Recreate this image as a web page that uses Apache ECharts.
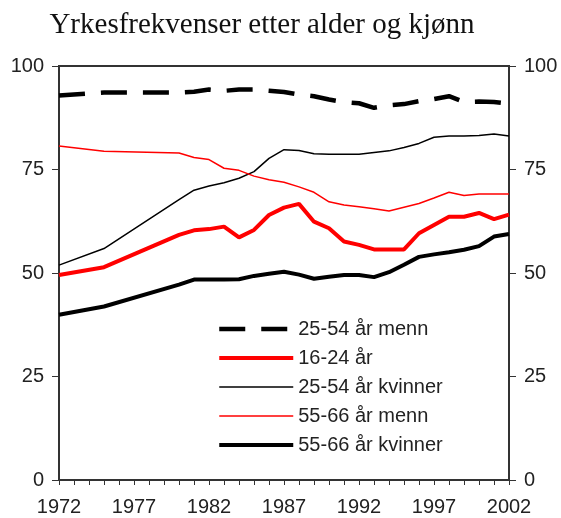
<!DOCTYPE html>
<html>
<head>
<meta charset="utf-8">
<script src="https://cdn.jsdelivr.net/npm/echarts@6/dist/echarts.min.js"></script>
<style>
  html, body { margin: 0; padding: 0; background: #fff; }
  #chart { width: 561px; height: 518px; }
</style>
</head>
<body>
<div id="chart"></div>
<script>
var years = [];
for (var y = 1972; y <= 2002; y++) years.push(String(y));

// 1972, 1975, then yearly from 1980 (null = no observation)
var menn2554 = [92.9, null, null, 93.6, null, null, null, null, 93.6, 93.8, 94.3, 94.0, 94.3, 94.3, 94.0, 93.7, 93.1, 92.7, 91.9, 91.3, 91.0, 89.9, 90.5, 90.8, 91.5, 92.0, 92.7, 91.3, 91.4, 91.3, 90.9];
var unge1624 = [49.5, null, null, 51.4, null, null, null, null, 59.2, 60.3, 60.6, 61.2, 58.6, 60.4, 64.0, 65.8, 66.7, 62.4, 60.8, 57.6, 56.8, 55.7, 55.7, 55.7, 59.6, 61.6, 63.6, 63.6, 64.5, 63.0, 64.1];
var kvinner2554 = [51.9, null, null, 55.9, null, null, null, null, 67.7, 70.0, 71.0, 71.8, 72.9, 74.5, 77.7, 79.8, 79.6, 78.8, 78.7, 78.7, 78.7, 79.1, 79.5, 80.3, 81.3, 82.8, 83.1, 83.1, 83.2, 83.6, 83.1];
var menn5566 = [80.7, null, null, 79.4, null, null, null, null, 79.0, 77.9, 77.4, 75.3, 74.8, 73.4, 72.5, 71.9, 70.8, 69.5, 67.2, 66.4, 66.0, 65.5, 65.0, 65.9, 66.8, 68.1, 69.5, 68.7, 69.1, 69.1, 69.1];
var kvinner5566 = [39.9, null, null, 41.9, null, null, null, null, 47.2, 48.4, 48.4, 48.4, 48.5, 49.3, 49.8, 50.3, 49.6, 48.6, 49.1, 49.5, 49.5, 49.0, 50.2, 52.0, 53.9, 54.5, 55.0, 55.6, 56.5, 58.8, 59.4];

var chart = echarts.init(document.getElementById('chart'));

var font = 'Liberation Sans, Arial, sans-serif';
var axisColor = '#333';

function yAx(pos) {
    return {
        type: 'value',
        position: pos,
        min: 0,
        max: 100,
        interval: 25,
        axisLine: { show: true, lineStyle: { color: axisColor, width: 2 } },
        axisTick: { show: true, length: 7, lineStyle: { color: axisColor, width: 1 } },
        axisLabel: { margin: 15, color: '#222', fontSize: 20, fontFamily: font },
        splitLine: { show: false }
    };
}

function line(name, data, color, width, type) {
    return {
        name: name,
        type: 'line',
        data: data,
        connectNulls: true,
        symbol: 'none',
        showSymbol: false,
        lineStyle: { color: color, width: width, type: type || 'solid', cap: 'butt' },
        itemStyle: { color: color }
    };
}

// legend entry: line only, no symbol
function leg(name, color, width, type) {
    return {
        name: name,
        itemStyle: { opacity: 0 },
        lineStyle: { color: color, width: width, type: type || 'solid', cap: 'butt' }
    };
}

var option = {
    animation: false,
    backgroundColor: '#fff',
    title: {
        text: 'Yrkesfrekvenser etter alder og kjønn',
        left: 257,
        top: 6,
        textAlign: 'center',
        textStyle: { fontFamily: 'Liberation Serif, Times New Roman, serif', fontSize: 29, fontWeight: 'normal', color: '#111' }
    },
    grid: {
        left: 59, right: 52, top: 66, bottom: 38,
        show: true, borderColor: axisColor, borderWidth: 2,
        containLabel: false
    },
    legend: {
        orient: 'vertical',
        left: 212,
        top: 314,
        itemWidth: 74,
        itemHeight: 14,
        itemGap: 9,
        textStyle: { fontSize: 20, fontFamily: font, color: '#222' },
        data: [
            leg('25-54 år menn', '#000', 4.5, [26, 16]),
            leg('16-24 år', '#ff0000', 4),
            leg('25-54 år kvinner', '#000', 1.5),
            leg('55-66 år menn', '#ff0000', 1.5),
            leg('55-66 år kvinner', '#000', 4)
        ]
    },
    xAxis: {
        type: 'category',
        data: years,
        boundaryGap: false,
        axisLine: { show: true, lineStyle: { color: axisColor, width: 2 } },
        axisTick: { show: true, interval: 0, length: 5, lineStyle: { color: axisColor, width: 1 } },
        axisLabel: { interval: 4, margin: 17, color: '#222', fontSize: 20, fontFamily: font },
        splitLine: { show: false }
    },
    yAxis: [yAx('left'), yAx('right')],
    series: [
        line('25-54 år menn', menn2554, '#000', 4.5, [26, 16]),
        line('16-24 år', unge1624, '#ff0000', 4),
        line('25-54 år kvinner', kvinner2554, '#000', 1.5),
        line('55-66 år menn', menn5566, '#ff0000', 1.5),
        line('55-66 år kvinner', kvinner5566, '#000', 4)
    ]
};

chart.setOption(option);
</script>
</body>
</html>
